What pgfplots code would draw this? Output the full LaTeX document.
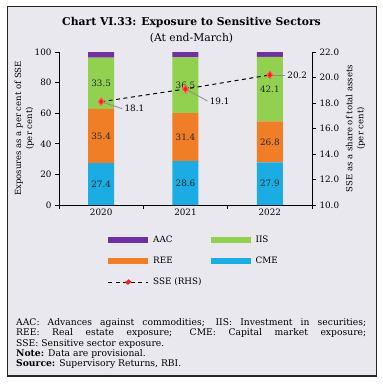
\documentclass[border=0pt]{standalone}
\usepackage{pgfplots}
\pgfplotsset{compat=1.18}
\usepackage{fontspec}
\setmainfont{DejaVu Serif}
\definecolor{bg}{HTML}{E9E8EF}
\definecolor{aac}{HTML}{7030A0}
\definecolor{iis}{HTML}{92D050}
\definecolor{ree}{HTML}{F07E26}
\definecolor{cme}{HTML}{1CACE4}
\definecolor{mk}{HTML}{FF1A1A}
\begin{document}
\begin{tikzpicture}[x=1pt,y=1pt]
\path[use as bounding box] (0pt,0pt) rectangle (383pt,384pt);
\fill[white] (0pt,0pt) rectangle (383pt,384pt);
\draw[fill=bg, line width=1pt, draw=black!85] (7pt,8pt) rectangle (376pt,377pt);
\node[font=\fontsize{10.8}{12}\selectfont\bfseries] at (191.5pt,361pt) {Chart VI.33: Exposure to Sensitive Sectors};
\node[font=\fontsize{10.8}{12}\selectfont] at (191.5pt,346pt) {(At end-March)};

\pgfplotsset{
  base/.style={
    at={(59pt,179pt)}, anchor=south west,
    scale only axis, width=253pt, height=153pt,
    xmin=-0.5, xmax=2.5,
    tick label style={font=\fontsize{8.8}{10}\selectfont},
    label style={font=\fontsize{8.5}{11}\selectfont, align=center},
    /pgf/number format/assume math mode=true,
    tick align=outside, major tick length=4pt,
    axis line style={line width=0.8pt},
    every tick/.style={black, line width=0.8pt},
  }
}
\begin{axis}[base,
  ybar stacked, bar width=26pt,
  ymin=0, ymax=100, ytick={0,20,...,100},
  axis y line*=left, axis x line*=bottom,
  xtick={-0.5,0.5,1.5,2.5}, xticklabels={},
  extra x ticks={0,1,2}, extra x tick labels={2020,2021,2022},
  extra x tick style={major tick length=0pt},
  ylabel={Exposures as a per cent of SSE\\(per cent)},
  ylabel style={yshift=-6pt},
]
\addplot[fill=cme, draw=none] coordinates {(0,27.4) (1,28.6) (2,27.9)};
\addplot[fill=ree, draw=none] coordinates {(0,35.4) (1,31.4) (2,26.8)};
\addplot[fill=iis, draw=none] coordinates {(0,33.5) (1,36.5) (2,42.1)};
\addplot[fill=aac, draw=none] coordinates {(0,3.7) (1,3.5) (2,3.2)};
\end{axis}

\begin{axis}[base, hide axis, ymin=0, ymax=100]
\addplot[draw=none, mark=none, nodes near coords, point meta=explicit symbolic,
  every node near coord/.append style={anchor=center, font=\fontsize{8.8}{10}\selectfont, text=black!85}]
  table[meta=lab] {
x y lab
0 13.70 27.4
1 14.30 28.6
2 13.95 27.9
0 45.10 35.4
1 44.30 31.4
2 41.30 26.8
0 79.55 33.5
1 78.25 36.5
2 75.75 42.1
};
\end{axis}

\begin{axis}[base,
  ymin=10, ymax=22, ytick={10,12,...,22},
  axis y line*=right, axis x line=none,
  yticklabel style={/pgf/number format/.cd, fixed, fixed zerofill, precision=1},
  ylabel={SSE as a share of total assets\\(per cent)},
  legend columns=2,
  legend cell align=left,
  legend style={at={(axis description cs:0.17,-0.175)}, anchor=north west,
    draw=none, fill=none, font=\fontsize{8.8}{10}\selectfont, row sep=9pt,
    /tikz/every even column/.append style={column sep=4pt}},
]
\addlegendimage{legend image code/.code={\draw[aac, line width=6pt] (0pt,0pt) -- (40pt,0pt);}}
\addlegendentry{AAC}
\addlegendimage{legend image code/.code={\draw[iis, line width=6pt] (0pt,0pt) -- (40pt,0pt);}}
\addlegendentry{IIS}
\addlegendimage{legend image code/.code={\draw[ree, line width=6pt] (0pt,0pt) -- (40pt,0pt);}}
\addlegendentry{REE}
\addlegendimage{legend image code/.code={\draw[cme, line width=6pt] (0pt,0pt) -- (40pt,0pt);}}
\addlegendentry{CME}
\draw[black!45, line width=0.8pt] (axis cs:0,18.1) -- (axis cs:0.25,17.55) node[right, inner sep=2pt, font=\fontsize{8.8}{10}\selectfont, text=black] {18.1};
\draw[black!45, line width=0.8pt] (axis cs:1,19.1) -- (axis cs:1.26,18.16) node[right, inner sep=2pt, font=\fontsize{8.8}{10}\selectfont, text=black] {19.1};
\draw[black!45, line width=0.8pt] (axis cs:2,20.2) -- (axis cs:2.18,20.2) node[right, inner sep=2pt, font=\fontsize{8.8}{10}\selectfont, text=black] {20.2};
\addplot[black, line width=1pt, dash pattern=on 4pt off 3.5pt, mark=diamond*, mark size=3.8pt,
  mark options={solid, fill=mk, draw=mk!70!white},
  legend image code/.code={\draw[black, line width=1pt, dash pattern=on 4pt off 3.5pt] (0pt,0pt) -- (40pt,0pt);
    \fill[mk] (20pt,2.5pt) -- (22.5pt,0pt) -- (20pt,-2.5pt) -- (17.5pt,0pt) -- cycle;}]
  coordinates {(0,18.1) (1,19.1) (2,20.2)};
\addlegendentry{SSE (RHS)}
\end{axis}

\node[anchor=north west, inner sep=0pt, align=left, font=\fontsize{9.2}{10.2}\selectfont] at (16pt,65.5pt) {%
\makebox[350pt][s]{AAC: Advances against commodities; IIS: Investment in securities;}\\
\makebox[350pt][s]{REE: Real estate exposure; CME: Capital market exposure;}\\
SSE: Sensitive sector exposure.\\
\textbf{Note:} Data are provisional.\\
\textbf{Source:} Supervisory Returns, RBI.};
\end{tikzpicture}
\end{document}
